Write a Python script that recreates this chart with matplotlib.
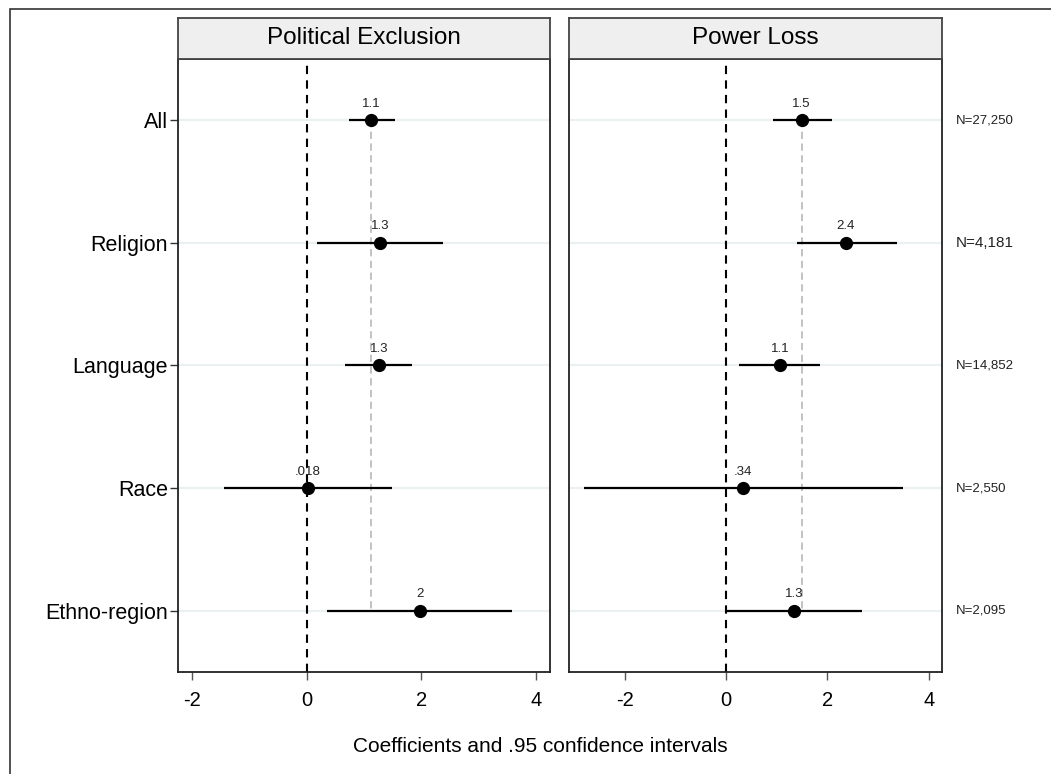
import matplotlib
matplotlib.use("Agg")
import matplotlib.pyplot as plt
from matplotlib.patches import Rectangle

plt.rcParams['font.family'] = ['Liberation Sans', 'DejaVu Sans']

# Categories, top to bottom
groups = ["All", "Religion", "Language", "Race", "Ethno-region"]
sample_sizes = ["N=27,250", "N=4,181", "N=14,852", "N=2,550", "N=2,095"]

# Political exclusion: coefficients and .95 CI bounds
excl_coef = [1.12, 1.28, 1.26, 0.018, 1.97]
excl_lo = [0.74, 0.18, 0.67, -1.44, 0.36]
excl_hi = [1.54, 2.38, 1.84, 1.48, 3.59]

# Power loss: coefficients and .95 CI bounds
loss_coef = [1.49, 2.36, 1.06, 0.34, 1.34]
loss_lo = [0.92, 1.39, 0.26, -2.81, 0.0]
loss_hi = [2.08, 3.37, 1.85, 3.50, 2.68]

panel_titles = ["Political Exclusion", "Power Loss"]
xticks = [-2, 0, 2, 4]


def fmt(v):
    # two significant digits, no leading zero
    s = f"{v:.2g}"
    if s.startswith("0."):
        s = s[1:]
    elif s.startswith("-0."):
        s = "-" + s[2:]
    return s


W, H = 1051, 774
fig = plt.figure(figsize=(W / 100, H / 100), dpi=100)

# outer frame of the graph region
fig.patches.append(Rectangle((10 / W, 0 - 0.01), 1.1, 1 - 9 / H + 0.01,
                             transform=fig.transFigure, fill=False,
                             edgecolor="#222222", lw=1.1))

top_px, bot_px, head_px = 59, 672, 18
boxes = [(177.5, 550), (569, 942)]
xlims = [(-2.255, 4.246), (-3.10, 4.26)]
data = [(excl_coef, excl_lo, excl_hi), (loss_coef, loss_lo, loss_hi)]

ypos = list(range(1, len(groups) + 1))

for k, ((x0, x1), (coef, lo, hi)) in enumerate(zip(boxes, data)):
    ax = fig.add_axes([x0 / W, 1 - bot_px / H, (x1 - x0) / W, (bot_px - top_px) / H])
    ax.set_xlim(*xlims[k])
    ax.set_ylim(5.5, 0.5)

    # light row guides
    for y in ypos:
        ax.axhline(y, color="#eaf1f3", lw=1.5, zorder=0)

    # zero line
    ax.axvline(0, color="black", lw=1.5, ls=(0, (4, 3)), zorder=1)
    # reference line at the "All" estimate
    ax.plot([coef[0], coef[0]], [ypos[0], ypos[-1]], color="#bdbdbd", lw=1.3,
            ls=(0, (4, 2.5)), zorder=1)

    ax.hlines(ypos, lo, hi, color="black", lw=1.6, zorder=2)
    ax.plot(coef, ypos, "o", color="black", ms=8.5, zorder=3)

    for c, y in zip(coef, ypos):
        ax.annotate(fmt(c), (c, y), xytext=(0, 7.5), textcoords="offset points",
                    ha="center", va="bottom", fontsize=9.5, color="#222222")

    ax.set_xticks(xticks)
    ax.set_xticklabels([str(t) for t in xticks], fontsize=14.5)
    ax.tick_params(axis="x", direction="out", length=6, width=1, color="#555555",
                   pad=8)
    ax.set_yticks(ypos)
    if k == 0:
        ax.set_yticklabels(groups, fontsize=15.5)
        ax.tick_params(axis="y", direction="out", length=6, width=1,
                       color="#333333", pad=1)
    else:
        ax.tick_params(axis="y", length=0, labelleft=False)
        for y, n in zip(ypos, sample_sizes):
            ax.annotate(n, (1, y), xycoords=("axes fraction", "data"),
                        xytext=(10, 0), textcoords="offset points",
                        ha="left", va="center",
                        fontsize=11 if n == "N=4,181" else 9.5, color="#222222")

    for sp in ax.spines.values():
        sp.set_color("#222222")
        sp.set_linewidth(1.3)

    # panel header strip
    hx = fig.add_axes([x0 / W, 1 - top_px / H, (x1 - x0) / W, (top_px - head_px) / H])
    hx.set_facecolor("#efefef")
    hx.set_xticks([])
    hx.set_yticks([])
    for sp in hx.spines.values():
        sp.set_color("#444444")
        sp.set_linewidth(1.3)
    hx.text(0.5, 0.5, panel_titles[k], ha="center", va="center", fontsize=17.5,
            transform=hx.transAxes)

fig.text(540 / W, 1 - 747 / H, "Coefficients and .95 confidence intervals",
         ha="center", va="center", fontsize=15)

fig.savefig("out.png", dpi=100)
